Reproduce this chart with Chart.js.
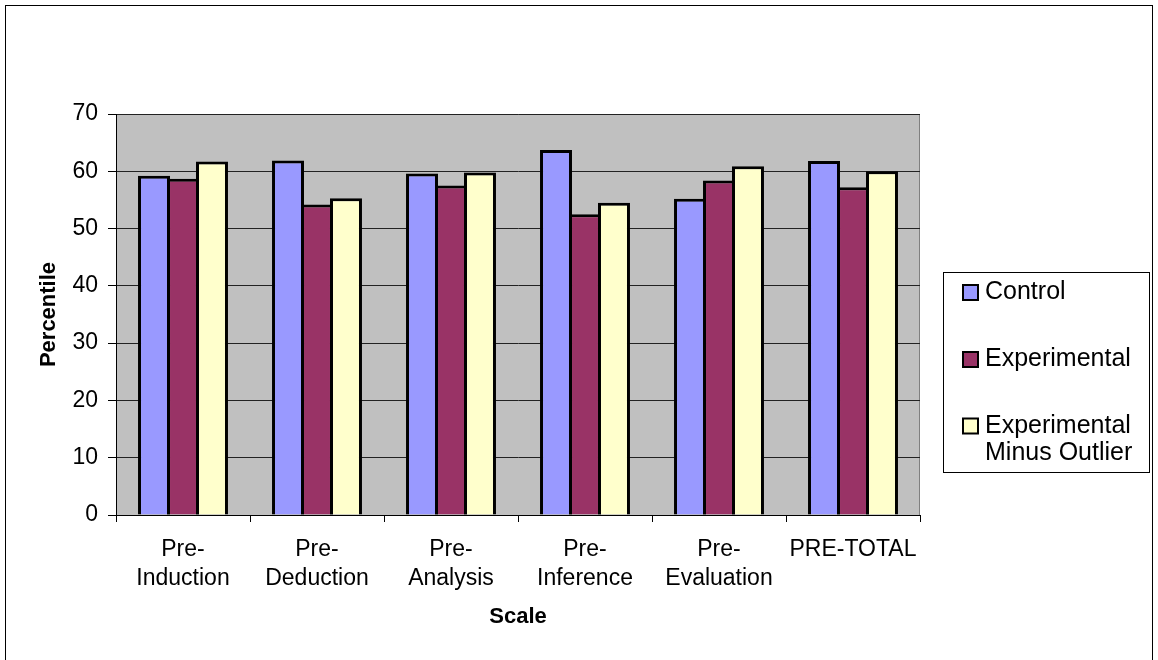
<!DOCTYPE html>
<html>
<head>
<meta charset="utf-8">
<script src="https://cdn.jsdelivr.net/npm/chart.js@4/dist/chart.umd.min.js"></script>
<style>
  html, body { margin: 0; padding: 0; background: #fff; }
  canvas { display: block; }
</style>
</head>
<body>
<canvas id="chart" width="1158" height="660"></canvas>
<script>
// Scale categories (two-line labels where the name wraps)
const categories = [
  ['Pre-', 'Induction'],
  ['Pre-', 'Deduction'],
  ['Pre-', 'Analysis'],
  ['Pre-', 'Inference'],
  ['Pre-', 'Evaluation'],
  'PRE-TOTAL'
];

// Mean percentile per group
const controlValues      = [59.2, 61.9, 59.6, 63.7, 55.2, 61.8];
const experimentalValues = [58.7, 54.2, 57.5, 52.5, 58.4, 57.2];
const minusOutlierValues = [61.7, 55.3, 59.8, 54.5, 60.9, 60.0];

const seriesNames = ['Control', 'Experimental', ['Experimental', 'Minus Outlier']];
const seriesColors = ['#9999FF', '#993366', '#FFFFCC'];

const FONT = '"Liberation Sans", Arial, sans-serif';

// Grey plot background, plot frame and the outer chart frame
const frame = {
  id: 'frame',
  beforeDraw(chart) {
    const { ctx, chartArea: a } = chart;
    ctx.save();
    ctx.fillStyle = '#C0C0C0';
    ctx.fillRect(a.left, a.top, a.right - a.left, a.bottom - a.top);
    ctx.strokeStyle = '#808080';
    ctx.lineWidth = 1;
    ctx.strokeRect(a.left + 0.5, a.top + 0.5, a.right - a.left - 1, a.bottom - a.top);
    ctx.restore();
  },
  afterDraw(chart) {
    const { ctx } = chart;
    ctx.save();
    ctx.strokeStyle = '#000';
    ctx.lineWidth = 1;
    ctx.strokeRect(5.5, 5.5, 1147, 720);
    ctx.restore();
  }
};

// Boxed legend to the right of the plot
const boxedLegend = {
  id: 'boxedLegend',
  afterDraw(chart) {
    const { ctx } = chart;
    ctx.save();
    ctx.strokeStyle = '#000';
    ctx.lineWidth = 1;
    ctx.strokeRect(943.5, 272.5, 206, 200);
    ctx.font = '25px ' + FONT;
    ctx.textBaseline = 'middle';
    ctx.textAlign = 'left';
    const rows = [292.5, 359.5, 426];
    chart.data.datasets.forEach((ds, i) => {
      const y = rows[i];
      ctx.fillStyle = ds.backgroundColor;
      ctx.fillRect(963, y - 7.5, 15, 15);
      ctx.lineWidth = 2;
      ctx.strokeStyle = '#000';
      ctx.strokeRect(963, y - 7.5, 15, 15);
      ctx.fillStyle = '#000';
      const lines = Array.isArray(seriesNames[i]) ? seriesNames[i] : [seriesNames[i]];
      lines.forEach((t, k) => ctx.fillText(t, 985, y + k * 27.5));
    });
    ctx.restore();
  }
};

// Bars are a touch wider than their slot so neighbouring outlines overlap
// into a single shared line instead of a doubled one.
new Chart(document.getElementById('chart'), {
  type: 'bar',
  data: {
    labels: categories,
    datasets: [
      { label: 'Control', data: controlValues },
      { label: 'Experimental', data: experimentalValues },
      { label: 'Experimental Minus Outlier', data: minusOutlierValues }
    ].map((d, i) => Object.assign(d, {
      backgroundColor: seriesColors[i],
      borderColor: '#000',
      borderWidth: 3,
      inflateAmount: 0,
      categoryPercentage: 0.649,
      barPercentage: 1.103
    }))
  },
  options: {
    responsive: false,
    animation: false,
    layout: { padding: { top: 114, right: 238, bottom: 0, left: 0 } },
    plugins: {
      legend: { display: false },
      tooltip: { enabled: false }
    },
    scales: {
      x: {
        afterFit(scale) { scale.height = 145; },
        grid: {
          offset: true,
          drawOnChartArea: false,
          drawTicks: true,
          tickLength: 7,
          color: '#000'
        },
        border: { display: true, color: '#000', width: 1 },
        ticks: {
          color: '#000',
          font: { family: FONT, size: 23, lineHeight: 1.26 },
          padding: 13,
          maxRotation: 0,
          autoSkip: false
        },
        title: {
          display: true,
          text: 'Scale',
          color: '#000',
          font: { family: FONT, size: 22, weight: 'bold', lineHeight: 1.2 },
          padding: { top: 0, bottom: 30 }
        }
      },
      y: {
        min: 0,
        max: 70,
        afterFit(scale) { scale.width = 116; },
        grid: {
          color: '#222',
          lineWidth: 1,
          drawTicks: true,
          tickLength: 8,
          tickColor: '#000'
        },
        border: { display: true, color: '#000', width: 1 },
        ticks: {
          stepSize: 10,
          color: '#000',
          font: { family: FONT, size: 23 },
          padding: 10
        },
        title: {
          display: true,
          text: 'Percentile',
          color: '#000',
          font: { family: FONT, size: 22, weight: 'bold', lineHeight: 1.2 },
          padding: { top: 36, bottom: 0 }
        }
      }
    }
  },
  plugins: [frame, boxedLegend]
});
</script>
</body>
</html>
